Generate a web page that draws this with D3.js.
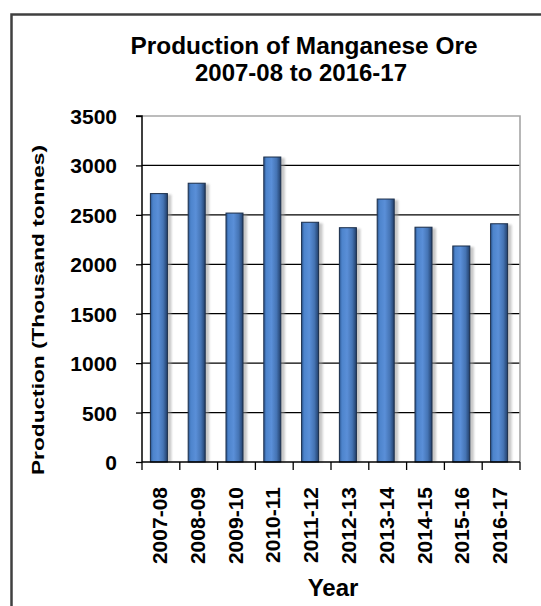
<!DOCTYPE html>
<html>
<head>
<meta charset="utf-8">
<script src="https://cdn.jsdelivr.net/npm/d3@7"></script>
<style>
    body { margin: 0; background: #fff; }
    svg { display: block; font-family: "Liberation Sans", Arial, sans-serif; }
</style>
</head>
<body>
<svg id="chart"></svg>
<script>
var years = ["2007-08", "2008-09", "2009-10", "2010-11", "2011-12",
             "2012-13", "2013-14", "2014-15", "2015-16", "2016-17"]
var production = [2715, 2820, 2518, 3085, 2425, 2370, 2660, 2375, 2185, 2410]
var yTicks = [0, 500, 1000, 1500, 2000, 2500, 3000, 3500]

var width = 541, height = 606
var svg = d3.select("#chart")
    .attr("width", width)
    .attr("height", height)

var defs = svg.append("defs")
var grad = defs.append("linearGradient")
    .attr("id", "barFill")
    .attr("x1", "0%").attr("x2", "100%")
    .attr("y1", "0%").attr("y2", "0%")
grad.selectAll("stop")
    .data([["0%", "#2c5690"], ["15%", "#4d84cc"], ["45%", "#5a8fd8"], ["75%", "#4574b4"], ["100%", "#223f6a"]])
    .enter().append("stop")
        .attr("offset", d => d[0])
        .attr("stop-color", d => d[1])
defs.append("filter")
    .attr("id", "soft")
    .append("feGaussianBlur")
        .attr("stdDeviation", 1)

// outer chart frame runs off the picture on the right and bottom
svg.append("rect")
    .attr("x", 11.5).attr("y", 14.5)
    .attr("width", 600).attr("height", 650)
    .attr("fill", "none")
    .attr("stroke", "#404040")
    .attr("stroke-width", 2.5)

var plot = {left: 142, right: 520, top: 116, bottom: 462}

var x = d3.scaleBand()
    .domain(years)
    .range([plot.left, plot.right])
    .paddingInner(0.55)
    .paddingOuter(0.275)

var y = d3.scaleLinear()
    .domain([0, 3500])
    .range([plot.bottom, plot.top])

var g = svg.append("g")

// grid lines
g.selectAll("line.grid")
    .data(yTicks.filter(d => d > 0 && d < 3500))
    .enter().append("line")
        .attr("class", "grid")
        .attr("x1", plot.left).attr("x2", plot.right)
        .attr("y1", d => y(d)).attr("y2", d => y(d))
        .attr("stroke", "#000")
        .attr("stroke-width", 1.3)

// top and right border of plot area
g.append("path")
    .attr("d", "M" + plot.left + "," + y(3500) + "H" + plot.right + "V" + plot.bottom)
    .attr("fill", "none")
    .attr("stroke", "#a6a6a6")
    .attr("stroke-width", 1.6)

// bar shadows then bars
var bw = x.bandwidth()
g.selectAll("rect.shadow")
    .data(production)
    .enter().append("rect")
        .attr("class", "shadow")
        .attr("x", (d, i) => x(years[i]) - 1)
        .attr("y", d => y(d) + 1)
        .attr("width", bw + 3)
        .attr("height", d => y(0) - y(d) - 1)
        .attr("fill", "#9a9a9a")
        .attr("opacity", 0.55)
        .attr("filter", "url(#soft)")

g.selectAll("rect.bar")
    .data(production)
    .enter().append("rect")
        .attr("class", "bar")
        .attr("x", (d, i) => x(years[i]) - 2)
        .attr("y", d => y(d))
        .attr("width", bw)
        .attr("height", d => y(0) - y(d))
        .attr("fill", "url(#barFill)")
        .attr("stroke", "#1b2e4a")
        .attr("stroke-width", 1)

// y axis
var yAxis = d3.axisLeft(y)
    .tickValues(yTicks)
    .tickFormat(d3.format("d"))
    .tickSize(6)
    .tickPadding(19)
var ya = svg.append("g")
    .attr("transform", "translate(" + plot.left + ",0)")
    .call(yAxis)
ya.select(".domain").attr("stroke", "#000").attr("stroke-width", 1.5)
    .attr("d", "M-6," + plot.top + "H0V" + plot.bottom)
ya.selectAll(".tick line").attr("stroke", "#000").attr("stroke-width", 1.3)
ya.selectAll(".tick text")
    .attr("fill", "#000")
    .style("font-size", "21px")
    .style("font-weight", "bold")
    .attr("dy", "0.36em")

// x axis: ticks on category boundaries
var xa = svg.append("g")
xa.append("line")
    .attr("x1", plot.left).attr("x2", plot.right)
    .attr("y1", plot.bottom).attr("y2", plot.bottom)
    .attr("stroke", "#000").attr("stroke-width", 1.5)
var bounds = years.map(d => x(d) - x.step() * x.paddingOuter()).concat([plot.right])
xa.selectAll("line.tick")
    .data(bounds)
    .enter().append("line")
        .attr("class", "tick")
        .attr("x1", d => d).attr("x2", d => d)
        .attr("y1", plot.bottom).attr("y2", plot.bottom + 8)
        .attr("stroke", "#000").attr("stroke-width", 1.3)
xa.selectAll("text")
    .data(years)
    .enter().append("text")
        .attr("transform", d => "translate(" + (x(d) + bw / 2 + 6) + "," + (plot.bottom + 25) + ") rotate(-90)")
        .attr("text-anchor", "end")
        .style("font-size", "21px")
        .style("font-weight", "bold")
        .text(d => d)

// titles
svg.append("text")
    .attr("x", 304).attr("y", 54)
    .attr("text-anchor", "middle")
    .attr("textLength", 347)
    .attr("lengthAdjust", "spacingAndGlyphs")
    .style("font-size", "23px")
    .style("font-weight", "bold")
    .text("Production of Manganese Ore")
svg.append("text")
    .attr("x", 301).attr("y", 81)
    .attr("text-anchor", "middle")
    .attr("textLength", 212)
    .attr("lengthAdjust", "spacingAndGlyphs")
    .style("font-size", "23px")
    .style("font-weight", "bold")
    .text("2007-08 to 2016-17")

svg.append("text")
    .attr("transform", "translate(44,310) rotate(-90)")
    .attr("text-anchor", "middle")
    .attr("textLength", 330)
    .attr("lengthAdjust", "spacingAndGlyphs")
    .style("font-size", "17px")
    .style("font-weight", "bold")
    .text("Production (Thousand tonnes)")

svg.append("text")
    .attr("x", 333).attr("y", 596)
    .attr("text-anchor", "middle")
    .style("font-size", "24px")
    .style("font-weight", "bold")
    .text("Year")
</script>
</body>
</html>
